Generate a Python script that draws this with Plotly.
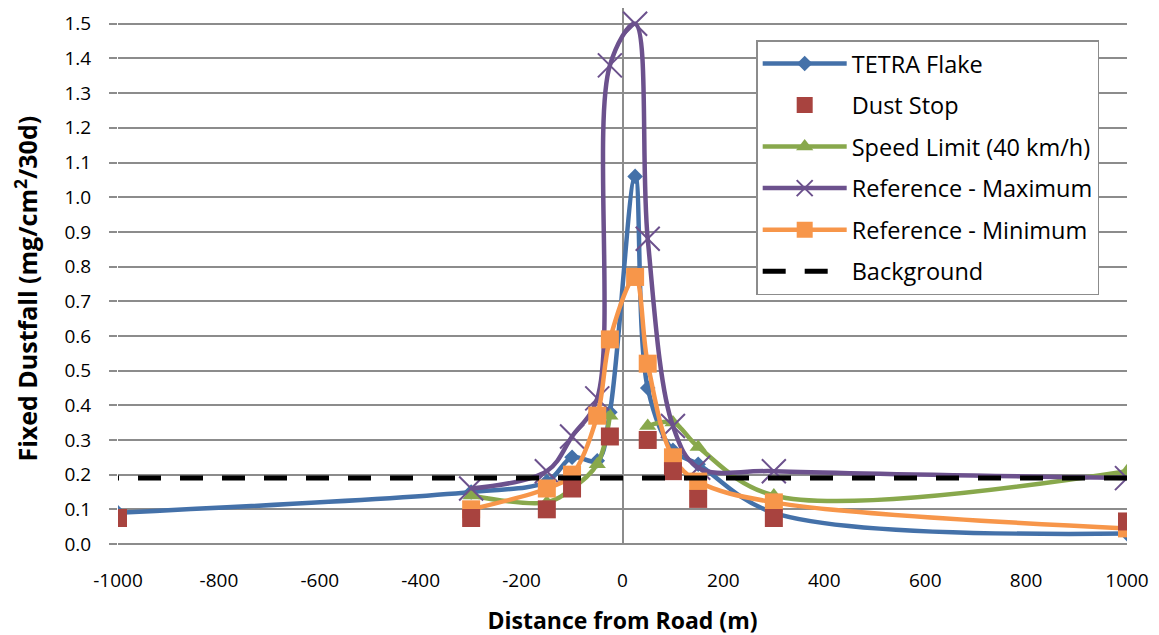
import plotly.graph_objects as go

# ---- data ----
x_tetra = [-1000, -300, -150, -100, -50, -25, 25, 50, 100, 150, 300, 1000]
y_tetra = [0.09, 0.15, 0.18, 0.25, 0.24, 0.38, 1.06, 0.45, 0.27, 0.23, 0.09, 0.03]

x_dust = [-1000, -300, -150, -100, -25, 50, 100, 150, 300, 1000]
y_dust = [0.075, 0.075, 0.10, 0.16, 0.31, 0.30, 0.21, 0.13, 0.075, 0.065]

x_ref = [-300, -150, -100, -50, -25, 25, 50, 100, 150, 300, 1000]
y_speed = [0.14, 0.12, 0.16, 0.23, 0.37, None, 0.34, 0.35, 0.28, 0.14, 0.21]
y_refmax = [0.16, 0.21, 0.31, 0.42, 1.38, 1.50, 0.88, 0.34, 0.22, 0.21, 0.19]
y_refmin = [0.10, 0.16, 0.20, 0.37, 0.59, 0.77, 0.52, 0.25, 0.18, 0.12, 0.045]

x_background = [1000, -1000]
y_background = [0.19, 0.19]

x_tick_vals = [-1000, -800, -600, -400, -200, 0, 200, 400, 600, 800, 1000]
x_tick_text = ["-1000", "-800", "-600", "-400", "-200", "0", "200", "400", "600", "800", "1000"]
y_tick_vals = [0.0, 0.1, 0.2, 0.3, 0.4, 0.5, 0.6, 0.7, 0.8, 0.9, 1.0, 1.1, 1.2, 1.3, 1.4, 1.5]
y_tick_text = ["0.0", "0.1", "0.2", "0.3", "0.4", "0.5", "0.6", "0.7", "0.8", "0.9",
               "1.0", "1.1", "1.2", "1.3", "1.4", "1.5"]

x_title = "Distance from Road (m)"
y_title = "Fixed Dustfall (mg/cm<sup>2</sup>/30d)"

# ---- styles ----
C_BLUE = "#4471A9"
C_RED = "#A8433F"
C_GREEN = "#88A84C"
C_PURPLE = "#6C518D"
C_ORANGE = "#F7964A"
GRID = "#8C8C8C"
FONT = "Open Sans"
LW = 4.5

fig = go.Figure()

fig.add_trace(go.Scatter(
    x=x_tetra, y=y_tetra, name="TETRA Flake", mode="lines+markers",
    line=dict(color=C_BLUE, width=LW, shape="spline", smoothing=1),
    marker=dict(symbol="diamond", size=12, color=C_BLUE),
    legendrank=1, legendgroup="a"))

fig.add_trace(go.Scatter(
    x=x_ref, y=y_speed, name="Speed Limit (40 km/h)", mode="lines+markers",
    line=dict(color=C_GREEN, width=LW, shape="spline", smoothing=1),
    marker=dict(symbol="triangle-up", size=15, color=C_GREEN),
    connectgaps=False, legendrank=3, legendgroup="c"))

fig.add_trace(go.Scatter(
    x=x_ref, y=y_refmax, name="Reference - Maximum", mode="lines+markers",
    line=dict(color=C_PURPLE, width=LW, shape="spline", smoothing=1),
    marker=dict(symbol="x-thin", size=24, color=C_PURPLE,
                line=dict(color=C_PURPLE, width=2)),
    legendrank=4, legendgroup="d"))

fig.add_trace(go.Scatter(
    x=x_ref, y=y_refmin, name="Reference - Minimum", mode="lines+markers",
    line=dict(color=C_ORANGE, width=LW, shape="spline", smoothing=1),
    marker=dict(symbol="square", size=18, color=C_ORANGE),
    legendrank=5, legendgroup="e"))

fig.add_trace(go.Scatter(
    x=x_dust, y=y_dust, name="Dust Stop", mode="markers",
    marker=dict(symbol="square", size=18, color=C_RED),
    legendrank=2, legendgroup="b"))

fig.add_trace(go.Scatter(
    x=x_background, y=y_background, name="Background", mode="lines",
    line=dict(color="black", width=5, dash="23px,19px"),
    legendrank=6, legendgroup="f"))

fig.update_layout(
    width=1159, height=635,
    margin=dict(l=110, r=40, t=0, b=99),
    paper_bgcolor="white", plot_bgcolor="white",
    font=dict(family=FONT, size=19, color="black"),
    showlegend=True,
    legend=dict(
        x=0.6325, y=0.94, xanchor="left", yanchor="top",
        bgcolor="white", bordercolor="#8C8C8C", borderwidth=1.5,
        font=dict(family=FONT, size=23.5, color="black"),
        traceorder="grouped", tracegroupgap=8, itemwidth=84,
    ),
    xaxis=dict(
        range=[-1000, 1000], tickvals=x_tick_vals, ticktext=x_tick_text,
        showgrid=False, zeroline=True, zerolinecolor=GRID, zerolinewidth=2,
        showline=False, ticks="", ticklabelstandoff=23,
        title=dict(text="<b>" + x_title + "</b>",
                   font=dict(family=FONT, size=23), standoff=20),
    ),
    yaxis=dict(
        range=[0, 1.5455], tickvals=y_tick_vals, ticktext=y_tick_text,
        showgrid=True, gridcolor=GRID, gridwidth=2,
        zeroline=True, zerolinecolor=GRID, zerolinewidth=2,
        showline=False, ticks="outside", ticklen=8, tickcolor=GRID, tickwidth=2,
        ticklabelstandoff=14,
    ),
    annotations=[dict(
        text="<b>" + y_title + "</b>", textangle=-90,
        xref="paper", yref="paper", x=-0.0905, y=0.476,
        xanchor="center", yanchor="middle", showarrow=False,
        font=dict(family=FONT, size=25, color="black"),
    )],
)

fig.write_html("out.html")
